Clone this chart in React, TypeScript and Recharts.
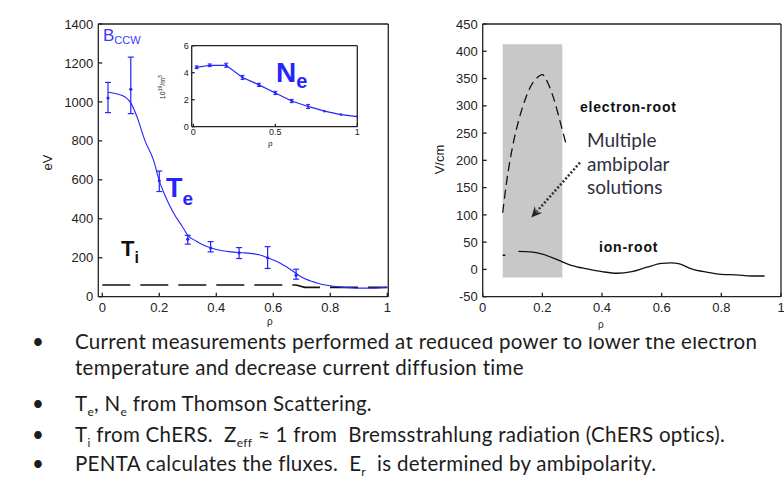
import React from "react";
import {
  ComposedChart,
  Line,
  Scatter,
  XAxis,
  YAxis,
  ErrorBar,
  ReferenceArea,
  ReferenceLine
} from "recharts";

// left panel: Te fit curve
const teFitRho = [0.02, 0.05, 0.08, 0.1, 0.12, 0.15, 0.18, 0.2, 0.22, 0.25, 0.28, 0.3, 0.33, 0.36, 0.4, 0.45, 0.5, 0.55, 0.58, 0.62, 0.66, 0.7, 0.75, 0.8, 0.85, 0.9, 0.95, 1.0];
const teFitEv = [1050, 1042, 1025, 995, 930, 800, 700, 595, 520, 430, 362, 315, 285, 261, 242, 230, 225, 215, 200, 175, 140, 100, 72, 56, 48, 44, 44, 48];

// Thomson points with error bars
const tePtRho = [0.02, 0.1, 0.2, 0.3, 0.38, 0.48, 0.58, 0.68];
const tePtEv = [1020, 1065, 595, 295, 250, 225, 200, 110];
const tePtLow = [945, 940, 540, 270, 230, 196, 145, 90];
const tePtHigh = [1100, 1230, 645, 315, 283, 252, 257, 141];

// Ti (dashed)
const tiRho = [0, 0.68, 0.71, 1.0];
const tiEv = [60, 60, 48, 48];

// inset: Ne
const neRho = [0.02, 0.1, 0.2, 0.3, 0.4, 0.5, 0.6, 0.7, 0.8, 0.9, 1.0];
const neVal = [4.4, 4.55, 4.55, 3.65, 3.1, 2.5, 1.9, 1.5, 1.15, 0.9, 0.75];
const neErr = [0.1, 0.1, 0.15, 0.15, 0.12, 0.12, 0.12, 0.15, 0, 0, 0];

// right panel: Er
const eRootRho = [0.067, 0.08, 0.1, 0.12, 0.14, 0.16, 0.18, 0.2, 0.22, 0.24, 0.26, 0.278];
const eRootEr = [104, 160, 225, 272, 308, 335, 350, 357, 340, 310, 270, 233];
const ionRootRho = [0.067, 0.076, 0.1, 0.12, 0.16, 0.2, 0.25, 0.3, 0.35, 0.4, 0.45, 0.5, 0.55, 0.6, 0.63, 0.66, 0.7, 0.75, 0.8, 0.85, 0.9, 0.945];
const ionRootEr = [26, 26, null, 33, 32, 28, 18, 7, 1, -4, -7, -4, 4, 11, 12, 10, 1, -5, -9, -10, -12, -12];
const shadeRho = [0.067, 0.267];
const shadeEr = [-15, 413];
const arrowRho = [0.326, 0.163];
const arrowEr = [196, 95];

const leftYTicks = [0, 200, 400, 600, 800, 1000, 1200, 1400];
const xTicks5 = [0, 0.2, 0.4, 0.6, 0.8, 1];
const insetYTicks = [0, 2, 4, 6];
const insetXTicks = [0, 0.5, 1];
const rightYTicks = [-50, 0, 50, 100, 150, 200, 250, 300, 350, 400, 450];

const bullets = [
  "Current measurements performed at reduced power to lower the electron",
  "temperature and decrease current diffusion  time"
];

const pairs = (xs: number[], ys: (number | null)[]) => xs.map((x, i) => ({ x, y: ys[i] }));

const teFit = pairs(teFitRho, teFitEv);
const tePts = tePtRho.map((x, i) => ({ x, y: tePtEv[i], err: [tePtEv[i] - tePtLow[i], tePtHigh[i] - tePtEv[i]] }));
const ti = pairs(tiRho, tiEv);
const ne = neRho.map((x, i) => ({ x, y: neVal[i], err: neErr[i] }));
const eRoot = pairs(eRootRho, eRootEr);
const ionRoot = pairs(ionRootRho, ionRootEr);

const AX = "#222";
const BLUE = "#2424ff";
const tickFont = { fontSize: 13, fill: "#222", fontFamily: "Liberation Sans, Arial, sans-serif" };
const smallFont = { fontSize: 9, fill: "#222", fontFamily: "Liberation Sans, Arial, sans-serif" };

const abs = (left: number, top: number, extra: React.CSSProperties = {}): React.CSSProperties => ({
  position: "absolute",
  left,
  top,
  whiteSpace: "nowrap",
  lineHeight: 1,
  ...extra
});

const dot = (r: number, color: string) => (p: any) =>
  p.cx == null ? <g key={p.key} /> : <circle key={p.key} cx={p.cx} cy={p.cy} r={r} fill={color} />;

const Arrow = (p: any) => {
  const { x1, y1, x2, y2 } = p;
  const ang = Math.atan2(y2 - y1, x2 - x1);
  const L = 11;
  const W = 5;
  const bx = x2 - L * Math.cos(ang);
  const by = y2 - L * Math.sin(ang);
  const px = -Math.sin(ang) * W;
  const py = Math.cos(ang) * W;
  return (
    <g>
      <line x1={x1} y1={y1} x2={bx + 3 * Math.cos(ang)} y2={by + 3 * Math.sin(ang)} stroke="#333" strokeWidth={2.6} strokeDasharray="2 2" />
      <path d={`M${x2},${y2} L${bx + px},${by + py} L${bx + 4 * Math.cos(ang)},${by + 4 * Math.sin(ang)} L${bx - px},${by - py} Z`} fill="#222" />
    </g>
  );
};

const sub = (t: string) => <sub style={{ fontSize: 12, lineHeight: 0 }}>{t}</sub>;

export default function App() {
  const line = { stroke: AX, strokeWidth: 1.3 };
  return (
    <div style={{ position: "absolute", left: 0, top: 0, width: 784, height: 478, background: "#fff", overflow: "hidden", fontFamily: "Liberation Sans, Arial, sans-serif" }}>
      {/* bullet text, sits under the chart pictures */}
      <div style={{ fontFamily: "Lato, 'Open Sans', sans-serif", fontSize: 20.5, letterSpacing: 0.3, color: "#1c1c1c" }}>
        <div style={abs(32, 331)}>•</div>
        <div style={abs(75, 331)}>{bullets[0]}</div>
        <div style={abs(75, 357)}>{bullets[1]}</div>
        <div style={abs(32, 393)}>•</div>
        <div style={abs(75, 393)}>
          T{sub("e")}, N{sub("e")} from Thomson Scattering.
        </div>
        <div style={abs(32, 424)}>•</div>
        <div style={abs(75, 424)}>
          T{sub("i")} from ChERS.&nbsp; Z{sub("eff")} ≈ 1 from&nbsp; Bremsstrahlung radiation (ChERS optics).
        </div>
        <div style={abs(32, 453)}>•</div>
        <div style={abs(75, 453)}>
          PENTA calculates the fluxes.&nbsp; E{sub("r")}&nbsp; is determined by ambipolarity.
        </div>
      </div>

      {/* left panel */}
      <div style={{ position: "absolute", left: 0, top: 0, width: 400, height: 330 }}>
        <ComposedChart width={400} height={330} margin={{ top: 23, right: 10.7, bottom: 32.3, left: 97.3 }}>
          <XAxis dataKey="x" type="number" domain={[-0.014, 1.0035]} ticks={xTicks5} interval={0} allowDataOverflow height={1} tickSize={-4} tickMargin={10} axisLine={line} tickLine={line} tick={tickFont} />
          <XAxis xAxisId="top" orientation="top" type="number" domain={[-0.014, 1.0035]} ticks={xTicks5} interval={0} allowDataOverflow height={1} tickSize={-4} axisLine={line} tickLine={line} tick={false} />
          <YAxis type="number" domain={[0, 1400]} ticks={leftYTicks} interval={0} allowDataOverflow width={1} tickSize={-4} tickMargin={9} axisLine={line} tickLine={line} tick={tickFont} />
          <YAxis yAxisId="right" orientation="right" type="number" domain={[0, 1400]} ticks={leftYTicks} interval={0} allowDataOverflow width={1} tickSize={-4} axisLine={line} tickLine={line} tick={false} />
          <Line data={ti} dataKey="y" type="linear" stroke="#111" strokeWidth={1.6} strokeDasharray="28 10" dot={false} isAnimationActive={false} />
          <Line data={teFit} dataKey="y" type="monotone" stroke={BLUE} strokeWidth={1.1} dot={false} isAnimationActive={false} />
          <Scatter data={tePts} dataKey="y" fill={BLUE} shape={dot(1.6, BLUE)} isAnimationActive={false}>
            <ErrorBar dataKey="err" direction="y" width={3} stroke={BLUE} strokeWidth={1.2} />
          </Scatter>
        </ComposedChart>
      </div>
      <div style={abs(103, 27, { color: "#3a3aff", fontSize: 17 })}>
        B<span style={{ fontSize: 11, position: "relative", top: 3 }}>CCW</span>
      </div>
      <div style={abs(166, 175, { color: BLUE, fontSize: 27, fontWeight: "bold" })}>
        T<span style={{ fontSize: 19, position: "relative", top: 8 }}>e</span>
      </div>
      <div style={abs(121, 238, { color: "#111", fontSize: 22, fontWeight: "bold" })}>
        T<span style={{ fontSize: 16, position: "relative", top: 7 }}>i</span>
      </div>
      <div style={abs(40, 156, { fontSize: 13, color: "#222", transform: "rotate(-90deg)" })}>eV</div>
      <div style={abs(267, 317, { fontSize: 10, color: "#222" })}>ρ</div>

      {/* inset Ne */}
      <div style={{ position: "absolute", left: 150, top: 30, width: 220, height: 125 }}>
        <ComposedChart width={220} height={125} margin={{ top: 14.7, right: 11.7, bottom: 27.3, left: 40.7 }}>
          <XAxis dataKey="x" type="number" domain={[-0.01, 1]} ticks={insetXTicks} interval={0} allowDataOverflow height={1} tickSize={-3} tickMargin={5} axisLine={line} tickLine={line} tick={smallFont} />
          <XAxis xAxisId="top" orientation="top" type="number" domain={[-0.01, 1]} ticks={insetXTicks} interval={0} allowDataOverflow height={1} tickSize={-3} axisLine={line} tickLine={line} tick={false} />
          <YAxis type="number" domain={[0, 6]} ticks={insetYTicks} interval={0} allowDataOverflow width={1} tickSize={-3} tickMargin={6} axisLine={line} tickLine={line} tick={smallFont} />
          <YAxis yAxisId="right" orientation="right" type="number" domain={[0, 6]} ticks={insetYTicks} interval={0} allowDataOverflow width={1} tickSize={-3} axisLine={line} tickLine={line} tick={false} />
          <Line data={ne} dataKey="y" type="linear" stroke={BLUE} strokeWidth={1.2} dot={dot(1.3, BLUE)} isAnimationActive={false}>
            <ErrorBar dataKey="err" direction="y" width={2} stroke={BLUE} strokeWidth={1} />
          </Line>
        </ComposedChart>
      </div>
      <div style={abs(276, 59, { color: BLUE, fontSize: 28, fontWeight: "bold" })}>
        N<span style={{ fontSize: 20, position: "relative", top: 6 }}>e</span>
      </div>
      <div style={abs(150, 83, { fontSize: 7, color: "#222", transform: "rotate(-90deg)" })}>
        10<sup style={{ fontSize: 5 }}>19</sup>/m<sup style={{ fontSize: 5 }}>3</sup>
      </div>
      <div style={abs(268, 140, { fontSize: 8, color: "#222" })}>ρ</div>

      {/* right panel, white picture overlapping the first bullet */}
      <div style={{ position: "absolute", left: 395, top: 0, width: 389, height: 337, background: "#fff" }}>
        <ComposedChart width={389} height={337} margin={{ top: 23, right: 2, bottom: 39.3, left: 86.7 }}>
          <XAxis dataKey="x" type="number" domain={[0, 1]} ticks={xTicks5} interval={0} allowDataOverflow height={1} tickSize={-4} tickMargin={10} axisLine={line} tickLine={line} tick={tickFont} />
          <XAxis xAxisId="top" orientation="top" type="number" domain={[0, 1]} ticks={xTicks5} interval={0} allowDataOverflow height={1} tickSize={-4} axisLine={line} tickLine={line} tick={false} />
          <YAxis type="number" domain={[-50, 450]} ticks={rightYTicks} interval={0} allowDataOverflow width={1} tickSize={-4} tickMargin={9} axisLine={line} tickLine={line} tick={tickFont} />
          <YAxis yAxisId="right" orientation="right" type="number" domain={[-50, 450]} ticks={rightYTicks} interval={0} allowDataOverflow width={1} tickSize={-4} axisLine={line} tickLine={line} tick={false} />
          <ReferenceArea x1={shadeRho[0]} x2={shadeRho[1]} y1={shadeEr[0]} y2={shadeEr[1]} fill="#c8c8c8" fillOpacity={1} stroke="none" />
          <Line data={eRoot} dataKey="y" type="monotone" stroke="#111" strokeWidth={1.3} strokeDasharray="9 5" dot={false} isAnimationActive={false} />
          <Line data={ionRoot} dataKey="y" type="monotone" stroke="#111" strokeWidth={1.3} dot={false} isAnimationActive={false} />
          <ReferenceLine
            segment={[{ x: arrowRho[0], y: arrowEr[0] }, { x: arrowRho[1], y: arrowEr[1] }]}
            shape={Arrow}
          />
        </ComposedChart>
        <div style={abs(30, 153, { fontSize: 13, color: "#222", transform: "rotate(-90deg)" })}>V/cm</div>
        <div style={abs(203, 320, { fontSize: 10, color: "#222" })}>ρ</div>
        <div style={abs(185, 100, { fontSize: 14, fontWeight: "bold", letterSpacing: 0.8, color: "#111" })}>electron-root</div>
        <div style={abs(204, 240, { fontSize: 14, fontWeight: "bold", letterSpacing: 0.8, color: "#111" })}>ion-root</div>
        <div style={{ ...abs(192, 128, { fontSize: 19, color: "#2f2f3f", fontFamily: "Lato, 'Open Sans', sans-serif", lineHeight: "23.5px", whiteSpace: "normal" }) }}>
          Multiple<br />ambipolar<br />solutions
        </div>
      </div>
    </div>
  );
}
